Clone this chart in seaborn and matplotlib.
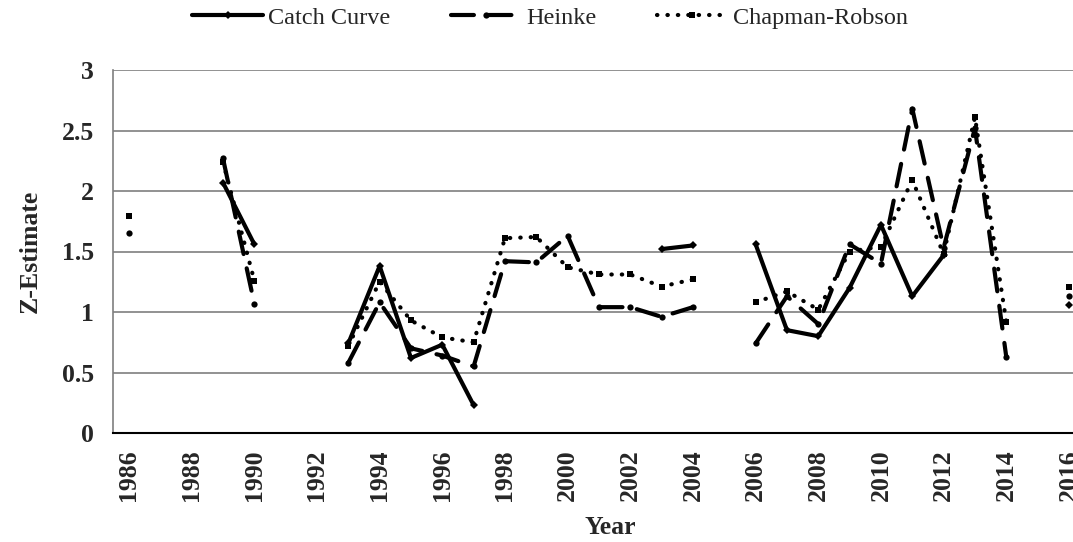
import numpy as np
import pandas as pd
import matplotlib.pyplot as plt
from matplotlib.lines import Line2D
import seaborn as sns

nan = np.nan
years = list(range(1986, 2017))

catch_curve = [nan, nan, nan, 2.07, 1.56, nan, nan, 0.74, 1.38, 0.62, 0.73, 0.23,
               nan, nan, nan, nan, nan, 1.52, 1.55, nan, 1.56, 0.85, 0.80, 1.20,
               1.72, 1.13, 1.47, nan, nan, nan, 1.06]
heinke = [1.65, nan, nan, 2.27, 1.07, nan, nan, 0.58, 1.08, 0.70, 0.64, 0.55,
          1.42, 1.41, 1.63, 1.04, 1.04, 0.96, 1.04, nan, 0.74, 1.13, 0.90, 1.56,
          1.40, 2.68, 1.53, 2.52, 0.63, nan, 1.13]
chapman_robson = [1.79, nan, nan, 2.24, 1.26, nan, nan, 0.72, 1.25, 0.93, 0.79, 0.75,
                  1.61, 1.62, 1.37, 1.31, 1.31, 1.21, 1.27, nan, 1.08, 1.17, 1.02, 1.50,
                  1.54, 2.09, 1.48, 2.61, 0.92, nan, 1.21]

series = {"Catch Curve": catch_curve, "Heinke": heinke, "Chapman-Robson": chapman_robson}

# long table, with a segment id so gaps (NaN) break the lines
rows = []
seg = 0
for name, vals in series.items():
    seg += 1
    for i, v in enumerate(vals):
        if np.isnan(v):
            seg += 1
            continue
        rows.append({"pos": i, "z": v, "method": name, "seg": seg})
df = pd.DataFrame(rows)

sns.set_style("white")
plt.rcParams["font.family"] = ["Liberation Serif", "DejaVu Serif"]

fig = plt.figure(figsize=(10.73, 5.42), dpi=100)
ax = fig.add_axes([113.3 / 1073, 1 - 433 / 542, 971.3 / 1073, 363 / 542])

dash_long = (5.5, 3.5)
dash_dot = (0.1, 2.4)
dashes = {"Catch Curve": "", "Heinke": dash_long, "Chapman-Robson": dash_dot}
markers = {"Catch Curve": "D", "Heinke": "o", "Chapman-Robson": "s"}

sns.lineplot(data=df, x="pos", y="z", style="method", units="seg", estimator=None,
             dashes=dashes, markers=markers, color="black", linewidth=3,
             markersize=4.5, markeredgewidth=0, dash_capstyle="round",
             legend=False, ax=ax, zorder=3)

ax.set_xlim(-0.5, len(years) - 0.5)
ax.set_ylim(0, 3)

# x ticks: labels on every other year, tick marks between categories
ax.set_xticks(range(0, len(years), 2))
ax.set_xticklabels([str(y) for y in years[::2]], rotation=90, fontweight="bold", fontsize=18.5)
ax.set_xticks(np.arange(-0.5, len(years), 1), minor=True)
ax.tick_params(axis="x", which="major", length=0, pad=12)
ax.tick_params(axis="x", which="minor", length=6, width=1.2, color="#7f7f7f", direction="out")

yt = [0, 0.5, 1, 1.5, 2, 2.5, 3]
ax.set_yticks(yt)
ax.set_yticklabels(["0", "0.5", "1", "1.5", "2", "2.5", "3"], fontweight="bold", fontsize=18.5)
ax.tick_params(axis="y", length=5, width=1.2, color="#7f7f7f", pad=9, direction="out")

ax.yaxis.grid(True, color="#7f7f7f", linewidth=1.2)
ax.set_axisbelow(True)
for s in ["top", "right"]:
    ax.spines[s].set_visible(False)
ax.spines["left"].set_color("#7f7f7f")
ax.spines["left"].set_linewidth(1.2)
ax.spines["bottom"].set_color("black")
ax.spines["bottom"].set_linewidth(1.5)
ax.spines["bottom"].set_zorder(4)

ax.set_xlabel("")
ax.set_ylabel("Z-Estimate", fontweight="bold", fontsize=18.5, labelpad=14)
fig.text(610 / 1073, 1 - 527 / 542, "Year", ha="center", va="center",
         fontweight="bold", fontsize=18.5)

handles = [
    Line2D([], [], color="black", lw=3, marker="D", ms=4, mew=0),
    Line2D([], [], color="black", lw=3, dashes=dash_long, marker="o", ms=4.5, mew=0,
           dash_capstyle="round"),
    Line2D([], [], color="black", lw=3, dashes=dash_dot, marker="s", ms=4.5, mew=0,
           dash_capstyle="round"),
]
fig.legend(handles, list(series.keys()), loc="upper center", ncol=3,
           bbox_to_anchor=(550 / 1073, 1.028), frameon=False, fontsize=17.5,
           handlelength=2.9, handletextpad=0.2, columnspacing=2.5, numpoints=1)

fig.savefig("out.png", dpi=100)
